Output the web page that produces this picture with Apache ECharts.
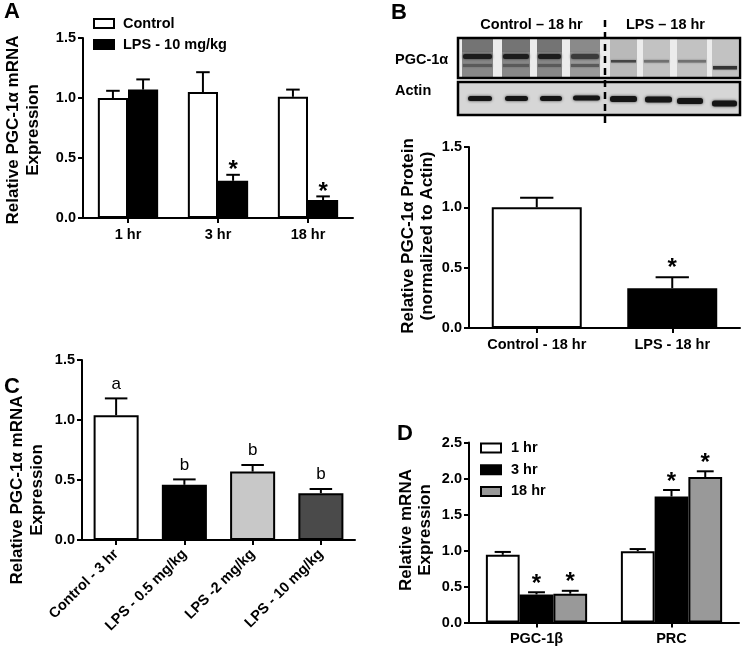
<!DOCTYPE html>
<html><head><meta charset="utf-8">
<script src="https://cdn.jsdelivr.net/npm/echarts@6/dist/echarts.min.js"></script>
<style>html,body{margin:0;padding:0;background:#fff}#c{width:749px;height:648px}</style>
</head><body><div id="c"></div>
<script>
// ---------- DATA ----------
const catsA = ['1 hr', '3 hr', '18 hr'];
const controlA = [1.00, 1.05, 1.01];
const controlAErr = [0.06, 0.165, 0.06];
const lpsA = [1.07, 0.31, 0.15];
const lpsAErr = [0.085, 0.05, 0.03];
const sigLpsA = ['', '*', '*'];

const catsB = ['Control - 18 hr', 'LPS - 18 hr'];
const valuesB = [1.00, 0.33];
const errB = [0.08, 0.09];
const sigB = ['', '*'];

const catsC = ['Control - 3 hr', 'LPS - 0.5 mg/kg', 'LPS -2 mg/kg', 'LPS - 10 mg/kg'];
const valuesC = [1.04, 0.46, 0.57, 0.39];
const errC = [0.14, 0.045, 0.055, 0.035];
const lettersC = ['a', 'b', 'b', 'b'];

const catsD = ['PGC-1β', 'PRC'];
const d1hr = [0.94, 0.99];
const d1hrErr = [0.04, 0.03];
const d3hr = [0.39, 1.75];
const d3hrErr = [0.03, 0.09];
const d18hr = [0.40, 2.02];
const d18hrErr = [0.04, 0.08];
const sigD1 = ['', ''];
const sigD3 = ['*', '*'];
const sigD18 = ['*', '*'];

const yMaxABC = 1.5, yStepABC = 0.5;
const yMaxD = 2.5, yStepD = 0.5;

// ---------- HELPERS ----------
const F = '"Liberation Sans", Arial, Helvetica, sans-serif';
const BLACK = '#000';

function xAx(gi, data, rotate) {
  return {
    type: 'category', gridIndex: gi, data: data,
    axisLine: { show: true, onZero: false, lineStyle: { color: BLACK, width: 2 } },
    axisTick: { show: true, alignWithLabel: true, length: 5, lineStyle: { color: BLACK, width: 2 } },
    axisLabel: { color: BLACK, fontSize: 14.5, fontWeight: 'bold', fontFamily: F, margin: rotate ? 12 : 9, rotate: rotate || 0, interval: 0 },
    splitLine: { show: false }
  };
}
function yAx(gi, max, step) {
  return {
    type: 'value', gridIndex: gi, min: 0, max: max, interval: step,
    axisLine: { show: true, lineStyle: { color: BLACK, width: 2 } },
    axisTick: { show: true, length: 5, lineStyle: { color: BLACK, width: 2 } },
    axisLabel: { color: BLACK, fontSize: 14.5, fontWeight: 'bold', fontFamily: F, margin: 7, formatter: v => v.toFixed(1) },
    splitLine: { show: false }
  };
}
function barS(name, gi, data, color, gap) {
  return {
    name: name, type: 'bar', xAxisIndex: gi, yAxisIndex: gi,
    data: data.map((v, i) => ({ value: v, itemStyle: { color: Array.isArray(color) ? color[i] : color } })),
    barGap: '0%', barCategoryGap: gap,
    itemStyle: { borderColor: BLACK, borderWidth: 2, color: Array.isArray(color) ? color[0] : color },
    emphasis: { disabled: true }, z: 2
  };
}
function errS(gi, vals, errs, marks, nSer, idx, gap, capFrac, mk) {
  return {
    type: 'custom', xAxisIndex: gi, yAxisIndex: gi, z: 5, silent: true,
    data: vals.map((v, i) => [i, v, errs[i]]),
    renderItem: function (params, api) {
      const i = api.value(0), v = api.value(1), e = api.value(2);
      const base = api.coord([i, v]);
      const top = api.coord([i, v + e]);
      const band = api.size([1, 0])[0];
      const gw = band * (1 - gap);
      const bw = gw / nSer;
      const x = base[0] - gw / 2 + bw * (idx + 0.5);
      const cw = bw * capFrac;
      const ch = [
        { type: 'line', shape: { x1: x, y1: base[1], x2: x, y2: top[1] }, style: { stroke: BLACK, lineWidth: 2 } },
        { type: 'line', shape: { x1: x - cw / 2, y1: top[1], x2: x + cw / 2, y2: top[1] }, style: { stroke: BLACK, lineWidth: 2 } }
      ];
      const m = marks[i];
      if (m) ch.push({ type: 'text', x: x, y: top[1] - mk.off, style: { text: m, font: mk.font, fill: BLACK, textAlign: 'center', textVerticalAlign: 'middle' } });
      return { type: 'group', children: ch };
    }
  };
}
const starA = { off: 4, font: 'bold 24px ' + F };
const starB = { off: 9, font: 'bold 24px ' + F };
const starD = { off: 8, font: 'bold 24px ' + F };
const letC = { off: 14.5, font: 'normal 17px ' + F };

// ---------- BLOT (decorative image of panel B) ----------
const blot = [];
const lanes = [[462, 493], [502, 530], [537, 562], [570, 600], [610, 637], [643, 670], [677, 707], [712, 738]];
blot.push({ type: 'rect', shape: { x: 458, y: 38, width: 282, height: 40 }, style: { fill: '#ececec' }, z: 1 });
lanes.forEach((l, k) => {
  const w = l[1] - l[0];
  const ctrl = k < 4;
  const bg = ctrl ? (k === 3 ? '#9a9a9a' : '#888888') : (k === 4 ? '#b9b9b9' : '#c2c2c2');
  blot.push({ type: 'rect', shape: { x: l[0], y: 39, width: w, height: 38 }, style: { fill: bg }, z: 2 });
  if (ctrl) {
    blot.push({ type: 'rect', shape: { x: l[0], y: 39, width: w, height: 13 }, style: { fill: k === 3 ? '#8a8a8a' : '#747474' }, z: 3 });
    blot.push({ type: 'rect', shape: { x: l[0] + 1, y: 54, width: w - 2, height: 5, r: 2 }, style: { fill: k === 3 ? '#3a3a3a' : '#1c1c1c', shadowBlur: 3, shadowColor: '#333' }, z: 4 });
    blot.push({ type: 'rect', shape: { x: l[0] + 1, y: 64, width: w - 2, height: 3 }, style: { fill: '#5a5a5a', shadowBlur: 2, shadowColor: '#666' }, z: 4 });
  } else {
    const by = k === 7 ? 66 : 60;
    const bc = k === 7 ? '#333' : (k === 4 ? '#444' : '#707070');
    blot.push({ type: 'rect', shape: { x: l[0] + 1, y: by, width: w - 2, height: k === 7 ? 3.5 : 2.5 }, style: { fill: bc, shadowBlur: 2, shadowColor: '#777' }, z: 4 });
  }
});
blot.push({ type: 'rect', shape: { x: 458, y: 38, width: 282, height: 40 }, style: { fill: 'none', stroke: BLACK, lineWidth: 2.5 }, z: 6 });
blot.push({ type: 'rect', shape: { x: 458, y: 82, width: 282, height: 33 }, style: { fill: '#d6d6d6' }, z: 1 });
const actinBands = [[468, 492, 96], [505, 528, 96], [540, 562, 96], [573, 600, 95.5], [610, 637, 96], [645, 672, 96.5], [677, 703, 98], [712, 737, 100.5]];
actinBands.forEach((b, k) => {
  blot.push({ type: 'rect', shape: { x: b[0], y: b[2], width: b[1] - b[0], height: k >= 4 ? 6 : 5, r: 2.5 }, style: { fill: '#151515', shadowBlur: 3, shadowColor: '#444' }, z: 4 });
});
blot.push({ type: 'rect', shape: { x: 458, y: 82, width: 282, height: 33 }, style: { fill: 'none', stroke: BLACK, lineWidth: 2.5 }, z: 6 });
blot.push({ type: 'line', shape: { x1: 605, y1: 20, x2: 605, y2: 127 }, style: { stroke: BLACK, lineWidth: 2.5, lineDash: [7, 5] }, z: 7 });
function txt(t, x, y, size, opts) {
  return Object.assign({ type: 'text', x: x, y: y, z: 10, style: { text: t, font: 'bold ' + size + 'px ' + F, fill: BLACK, textAlign: (opts && opts.align) || 'left', textVerticalAlign: 'middle', lineHeight: (opts && opts.lh) || size } }, (opts && opts.rot) ? { rotation: Math.PI / 2 } : {});
}
blot.push(txt('Control – 18 hr', 531.5, 25, 14.5, { align: 'center' }));
blot.push(txt('LPS – 18 hr', 665.5, 25, 14.5, { align: 'center' }));
blot.push(txt('PGC-1α', 395, 60, 14.5));
blot.push(txt('Actin', 395, 91, 14.5));

const titles = [
  txt('A', 4, 11.5, 22),
  txt('B', 391, 12.5, 22),
  txt('C', 4, 387, 22),
  txt('D', 397, 434, 22),
  txt('Relative PGC-1α mRNA\nExpression', 23, 130, 17, { align: 'center', rot: true, lh: 20 }),
  txt('Relative PGC-1α Protein\n(normalized to Actin)', 418, 236, 17, { align: 'center', rot: true, lh: 19 }),
  txt('Relative PGC-1α mRNA\nExpression', 27, 490, 17, { align: 'center', rot: true, lh: 20 }),
  txt('Relative mRNA\nExpression', 416, 530, 17, { align: 'center', rot: true, lh: 19 })
];

// ---------- OPTION ----------
const gapA = '33%', gapB = '33.6%', gapC = '34%', gapD = '25%';
const legendText = { color: BLACK, fontSize: 14.5, fontWeight: 'bold', fontFamily: F };
const option = {
  backgroundColor: '#fff',
  animation: false,
  textStyle: { fontFamily: F },
  grid: [
    { left: 83, top: 38, width: 270, height: 180, containLabel: false, outerBoundsMode: 'none' },
    { left: 469, top: 147, width: 271, height: 181, containLabel: false, outerBoundsMode: 'none' },
    { left: 82, top: 360, width: 273, height: 180, containLabel: false, outerBoundsMode: 'none' },
    { left: 469, top: 442.5, width: 270, height: 180, containLabel: false, outerBoundsMode: 'none' }
  ],
  xAxis: [xAx(0, catsA), xAx(1, catsB), xAx(2, catsC, 45), xAx(3, catsD)],
  yAxis: [yAx(0, yMaxABC, yStepABC), yAx(1, yMaxABC, yStepABC), yAx(2, yMaxABC, yStepABC), yAx(3, yMaxD, yStepD)],
  legend: [
    {
      data: ['Control', 'LPS - 10 mg/kg'], orient: 'vertical', left: 93, top: 16, padding: 0,
      itemWidth: 20, itemHeight: 9, itemGap: 6, icon: 'rect', selectedMode: false,
      itemStyle: { borderColor: BLACK, borderWidth: 2 },
      textStyle: Object.assign({ padding: [0, 0, 0, 4] }, legendText)
    },
    {
      data: ['1 hr', '3 hr', '18 hr'], orient: 'vertical', left: 480, top: 440.5, padding: 0,
      itemWidth: 20, itemHeight: 9, itemGap: 6.7, icon: 'rect', selectedMode: false,
      itemStyle: { borderColor: BLACK, borderWidth: 2 },
      textStyle: Object.assign({ padding: [0, 0, 0, 5] }, legendText)
    }
  ],
  series: [
    barS('Control', 0, controlA, '#fff', gapA),
    barS('LPS - 10 mg/kg', 0, lpsA, '#000', gapA),
    errS(0, controlA, controlAErr, ['', '', ''], 2, 0, 0.33, 0.45, starA),
    errS(0, lpsA, lpsAErr, sigLpsA, 2, 1, 0.33, 0.45, starA),

    barS('B', 1, valuesB, ['#fff', '#000'], gapB),
    errS(1, valuesB, errB, sigB, 1, 0, 0.336, 0.37, starB),

    barS('C', 2, valuesC, ['#fff', '#000', '#c8c8c8', '#4a4a4a'], gapC),
    errS(2, valuesC, errC, lettersC, 1, 0, 0.34, 0.5, letC),

    barS('1 hr', 3, d1hr, '#fff', gapD),
    barS('3 hr', 3, d3hr, '#000', gapD),
    barS('18 hr', 3, d18hr, '#999999', gapD),
    errS(3, d1hr, d1hrErr, sigD1, 3, 0, 0.25, 0.48, starD),
    errS(3, d3hr, d3hrErr, sigD3, 3, 1, 0.25, 0.5, starD),
    errS(3, d18hr, d18hrErr, sigD18, 3, 2, 0.25, 0.5, starD)
  ],
  graphic: blot.concat(titles)
};
const chart = echarts.init(document.getElementById('c'), null, { renderer: 'canvas' });
chart.setOption(option);
</script>
</body></html>
